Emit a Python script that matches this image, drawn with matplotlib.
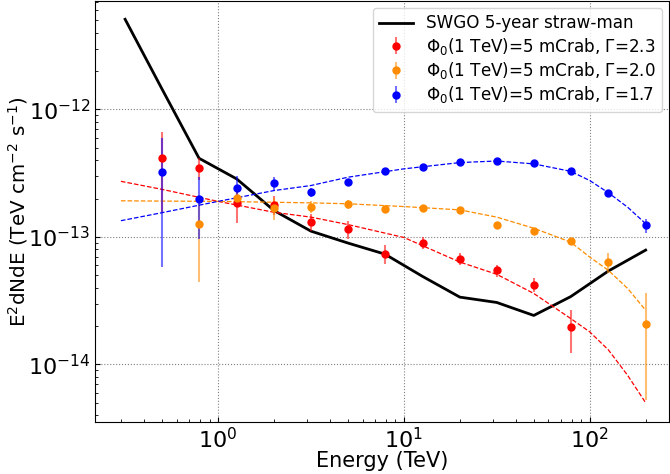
import numpy as np
import matplotlib
matplotlib.use("Agg")
import matplotlib.pyplot as plt

# energies of the simulated points (TeV)
energy = [0.5, 0.79, 1.26, 2.0, 3.16, 5.0, 7.9, 12.6, 20.0, 31.6, 50.0, 79.0, 126.0, 200.0]

# gamma = 2.3 (red), 0.5 .. 79 TeV
red_e = energy[:12]
red_y = [4.14e-13, 3.48e-13, 1.85e-13, 1.79e-13, 1.31e-13, 1.15e-13, 7.38e-14, 9.0e-14,
         6.74e-14, 5.47e-14, 4.23e-14, 1.95e-14]
red_err = [2.56e-13, 0.69e-13, 0.57e-13, 0.3e-13, 0.2e-13, 0.18e-13, 0.13e-13, 0.1e-13,
           0.07e-13, 0.06e-13, 0.05e-13, 0.73e-14]

# gamma = 2.0 (orange), 0.79 .. 200 TeV
orange_e = energy[1:]
orange_y = [1.26e-13, 2.01e-13, 1.69e-13, 1.73e-13, 1.81e-13, 1.66e-13, 1.68e-13,
            1.63e-13, 1.24e-13, 1.12e-13, 9.35e-14, 6.35e-14, 2.08e-14]
orange_err = [0.82e-13, 0.25e-13, 0.33e-13, 0.19e-13, 0.15e-13, 0.12e-13, 0.08e-13,
              0.05e-13, 0.05e-13, 0.05e-13, 0.05e-13, 1.1e-14, 1.55e-14]

# gamma = 1.7 (blue), 0.5 .. 200 TeV
blue_e = energy
blue_y = [3.25e-13, 1.97e-13, 2.44e-13, 2.64e-13, 2.25e-13, 2.72e-13, 3.26e-13, 3.56e-13,
          3.87e-13, 3.94e-13, 3.79e-13, 3.27e-13, 2.22e-13, 1.23e-13]
blue_err = [2.67e-13, 1.0e-13, 0.55e-13, 0.33e-13, 0.18e-13, 0.15e-13, 0.1e-13, 0.1e-13,
            0.08e-13, 0.08e-13, 0.08e-13, 0.08e-13, 0.1e-13, 0.15e-13]

# model curves
model_e = [0.3, 0.5, 1.0, 2.0, 3.16, 5.0, 10.0, 20.0, 31.6, 50.0, 79.0, 100.0, 126.0, 160.0, 200.0]
red_model = [2.73e-13, 2.36e-13, 1.9e-13, 1.56e-13, 1.43e-13, 1.25e-13, 9.9e-14, 6.35e-14,
             5.09e-14, 3.6e-14, 2.29e-14, 1.8e-14, 1.3e-14, 8.2e-15, 5.0e-15]
orange_model = [1.92e-13, 1.91e-13, 1.9e-13, 1.87e-13, 1.85e-13, 1.82e-13, 1.73e-13, 1.63e-13,
                1.43e-13, 1.17e-13, 9.1e-14, 6.95e-14, 5.47e-14, 3.94e-14, 2.66e-14]
blue_model = [1.34e-13, 1.55e-13, 1.9e-13, 2.31e-13, 2.53e-13, 2.94e-13, 3.42e-13, 3.83e-13,
              3.94e-13, 3.74e-13, 3.27e-13, 2.77e-13, 2.22e-13, 1.71e-13, 1.27e-13]

# SWGO sensitivity curve
swgo_e = [0.316, 0.5, 0.79, 1.26, 2.0, 3.16, 5.0, 7.9, 12.6, 20.0, 31.6, 50.0, 79.0, 126.0, 200.0]
swgo_y = [5.1e-12, 1.44e-12, 4.14e-13, 2.85e-13, 1.61e-13, 1.11e-13, 8.95e-14, 7.33e-14,
          4.9e-14, 3.37e-14, 3.06e-14, 2.42e-14, 3.4e-14, 5.4e-14, 7.88e-14]

fig, ax = plt.subplots(figsize=(6.7, 4.74), dpi=100)
plt.subplots_adjust(left=0.142, right=0.998, top=0.998, bottom=0.11)

ax.plot(swgo_e, swgo_y, color="black", lw=2, label="SWGO 5-year straw-man")

series = [
    (red_e, red_y, red_err, red_model, "red", r"$\Phi_0$(1 TeV)=5 mCrab, $\Gamma$=2.3"),
    (orange_e, orange_y, orange_err, orange_model, "darkorange", r"$\Phi_0$(1 TeV)=5 mCrab, $\Gamma$=2.0"),
    (blue_e, blue_y, blue_err, blue_model, "blue", r"$\Phi_0$(1 TeV)=5 mCrab, $\Gamma$=1.7"),
]
for e, y, err, model, col, lab in series:
    ax.plot(model_e, model, ls="--", color=col, lw=0.9)
    eb = ax.errorbar(e, y, yerr=err, fmt="o", color=col, ms=5, elinewidth=1.5,
                     ecolor=col, label=lab)
    for line in eb[2]:
        line.set_alpha(0.55)

ax.set_xscale("log")
ax.set_yscale("log")
ax.set_xticks([1, 10, 100])
ax.set_yticks([1e-14, 1e-13, 1e-12])
ax.set_xlim(0.218, 266)
ax.set_ylim(3.54e-15, 7.1e-12)
ax.grid(True, which="major", ls=":", color="gray", lw=0.8)
ax.tick_params(which="both", direction="in", labelsize=16)
ax.set_xlabel("Energy (TeV)", fontsize=15, labelpad=-1)
ax.set_ylabel(r"E$^2$dNdE (TeV cm$^{-2}$ s$^{-1}$)", fontsize=14.3)
ax.yaxis.set_label_coords(-0.113, 0.5)
ax.legend(loc="upper right", fontsize=12.1, labelspacing=0.2, handletextpad=0.75,
          borderaxespad=0.4)

plt.savefig("out.png", dpi=100)
